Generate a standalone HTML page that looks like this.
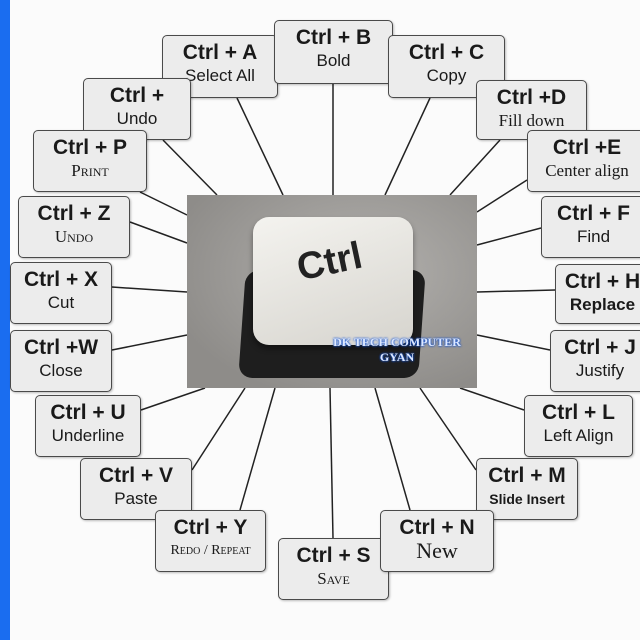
<!DOCTYPE html>
<html><head><style>
body{margin:0;width:640px;height:640px;background:#fbfbfb;position:relative;overflow:hidden;font-family:"Liberation Sans",sans-serif}
.bar{position:absolute;left:0;top:0;width:10px;height:640px;background:#1a6df0}
.b{position:absolute;background:#ececec;border:1.5px solid #4a4a4a;border-radius:5px;box-sizing:border-box;text-align:center;color:#1a1a1a;box-shadow:1px 1px 2px rgba(0,0,0,.25)}
.b .t{font-weight:bold;font-size:21px;margin-top:5px;line-height:24px}
.b .s{font-size:17px;line-height:22px}
.sc{font-variant:small-caps;font-family:"Liberation Serif",serif}
svg{position:absolute;left:0;top:0}
.img{position:absolute;left:187px;top:195px;width:290px;height:193px;background:radial-gradient(ellipse at 60% 40%,#b3b1ae,#8e8c89 80%);overflow:hidden}
</style></head><body>
<div class="bar"></div>
<svg width="640" height="640"><g stroke="#222" stroke-width="1.5">
<line x1="237" y1="98" x2="283" y2="195"/><line x1="333" y1="84" x2="333" y2="195"/><line x1="430" y1="98" x2="385" y2="195"/>
<line x1="163" y1="140" x2="217" y2="195"/><line x1="500" y1="140" x2="450" y2="195"/>
<line x1="140" y1="192" x2="187" y2="215"/><line x1="527" y1="180" x2="477" y2="212"/>
<line x1="130" y1="222" x2="187" y2="243"/><line x1="541" y1="228" x2="477" y2="245"/>
<line x1="112" y1="287" x2="187" y2="292"/><line x1="555" y1="290" x2="477" y2="292"/>
<line x1="112" y1="350" x2="187" y2="335"/><line x1="550" y1="350" x2="477" y2="335"/>
<line x1="141" y1="410" x2="205" y2="388"/><line x1="524" y1="410" x2="460" y2="388"/>
<line x1="192" y1="470" x2="245" y2="388"/><line x1="476" y1="470" x2="420" y2="388"/>
<line x1="240" y1="510" x2="275" y2="388"/><line x1="333" y1="538" x2="330" y2="388"/><line x1="410" y1="510" x2="375" y2="388"/>
</g></svg>
<div class="img">
<div style="position:absolute;left:55px;top:75px;width:180px;height:108px;background:#1e1e1e;border-radius:14px;transform:skewX(-4deg)"></div>
<div style="position:absolute;left:66px;top:22px;width:160px;height:128px;background:linear-gradient(160deg,#f4f3ef,#d6d4ce);border-radius:16px;box-shadow:0 4px 6px rgba(0,0,0,.4)"></div>
<div style="position:absolute;left:110px;top:46px;font-size:38px;font-weight:bold;color:#222;transform:rotate(-12deg)">Ctrl</div>
<div style="position:absolute;left:140px;top:140px;width:140px;text-align:center;font-family:'Liberation Serif',serif;font-size:12px;font-weight:bold;color:#dde8ff;text-shadow:0 0 2px #1655d0,0 0 2px #1655d0">DK TECH COMPUTER<br>GYAN</div>
</div>
<div class="b" style="left:162px;top:35px;width:116px;height:63px"><div class="t">Ctrl + A</div><div class="s">Select All</div></div>
<div class="b" style="left:274px;top:20px;width:119px;height:64px"><div class="t">Ctrl + B</div><div class="s">Bold</div></div>
<div class="b" style="left:388px;top:35px;width:117px;height:63px"><div class="t">Ctrl + C</div><div class="s">Copy</div></div>
<div class="b" style="left:83px;top:78px;width:108px;height:62px"><div class="t">Ctrl +</div><div class="s">Undo</div></div>
<div class="b" style="left:476px;top:80px;width:111px;height:60px"><div class="t">Ctrl +D</div><div class="s" style="font-family:'Liberation Serif',serif">Fill down</div></div>
<div class="b" style="left:33px;top:130px;width:114px;height:62px"><div class="t">Ctrl + P</div><div class="s sc">Print</div></div>
<div class="b" style="left:527px;top:130px;width:120px;height:62px"><div class="t">Ctrl +E</div><div class="s" style="font-family:'Liberation Serif',serif;white-space:nowrap">Center align</div></div>
<div class="b" style="left:18px;top:196px;width:112px;height:62px"><div class="t">Ctrl + Z</div><div class="s sc">Undo</div></div>
<div class="b" style="left:541px;top:196px;width:105px;height:62px"><div class="t">Ctrl + F</div><div class="s">Find</div></div>
<div class="b" style="left:10px;top:262px;width:102px;height:62px"><div class="t">Ctrl + X</div><div class="s">Cut</div></div>
<div class="b" style="left:555px;top:264px;width:95px;height:60px"><div class="t" style="white-space:nowrap">Ctrl + H</div><div class="s" style="font-weight:bold">Replace</div></div>
<div class="b" style="left:10px;top:330px;width:102px;height:62px"><div class="t">Ctrl +W</div><div class="s">Close</div></div>
<div class="b" style="left:550px;top:330px;width:100px;height:62px"><div class="t">Ctrl + J</div><div class="s">Justify</div></div>
<div class="b" style="left:35px;top:395px;width:106px;height:62px"><div class="t">Ctrl + U</div><div class="s">Underline</div></div>
<div class="b" style="left:524px;top:395px;width:109px;height:62px"><div class="t">Ctrl + L</div><div class="s">Left Align</div></div>
<div class="b" style="left:80px;top:458px;width:112px;height:62px"><div class="t">Ctrl + V</div><div class="s">Paste</div></div>
<div class="b" style="left:476px;top:458px;width:102px;height:62px"><div class="t">Ctrl + M</div><div class="s" style="font-size:14px;font-weight:bold">Slide Insert</div></div>
<div class="b" style="left:155px;top:510px;width:111px;height:62px"><div class="t">Ctrl + Y</div><div class="s sc" style="font-size:14px">Redo / Repeat</div></div>
<div class="b" style="left:278px;top:538px;width:111px;height:62px"><div class="t">Ctrl + S</div><div class="s sc">Save</div></div>
<div class="b" style="left:380px;top:510px;width:114px;height:62px"><div class="t">Ctrl + N</div><div class="s" style="font-family:'Liberation Serif',serif;font-size:22px">New</div></div>
</body></html>
